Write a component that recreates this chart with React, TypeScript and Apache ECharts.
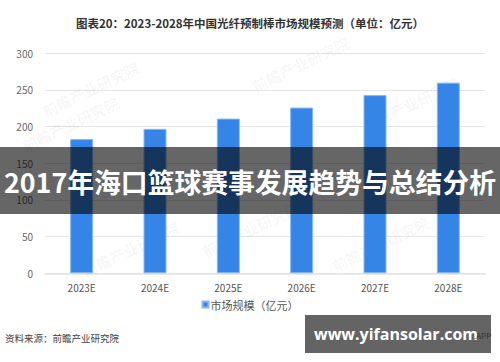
import React, { useEffect, useRef } from "react";
import * as echarts from "echarts";

const categories = ["2023E", "2024E", "2025E", "2026E", "2027E", "2028E"];
const marketSize = [183, 197, 211, 226, 243, 260];
const yTicks = [0, 50, 100, 150, 200, 250, 300];
const titleText = "图表20：2023-2028年中国光纤预制棒市场规模预测（单位：亿元）";
const seriesName = "市场规模（亿元）";
const sourceText = "资料来源：前瞻产业研究院";
const bannerText = "2017年海口篮球赛事发展趋势与总结分析";
const siteText = "www.yifansolar.com";

const CJK = '"Noto Sans CJK SC", "Noto Sans", sans-serif';

export default function App() {
  const ref = useRef<HTMLDivElement>(null);
  useEffect(() => {
    document.body.style.margin = "0";
    if (!ref.current) return;
    const chart = echarts.init(ref.current, undefined, { renderer: "svg" });
    const wm = (x: number, y: number) => ({
      type: "text",
      x,
      y,
      rotation: Math.PI / 7,
      silent: true,
      z: 1,
      style: {
        text: "前瞻产业研究院",
        fill: "rgba(0,0,0,0.045)",
        font: `bold 15px ${CJK}`,
      },
    });
    chart.setOption({
      animation: false,
      backgroundColor: "#ffffff",
      title: {
        text: titleText,
        left: "center",
        top: 12,
        textStyle: { fontSize: 11.5, fontWeight: "bold", color: "#333", fontFamily: CJK },
      },
      grid: { left: 45, right: 15, top: 53.3, bottom: 88.7, containLabel: false },
      legend: {
        data: [seriesName],
        bottom: 47,
        left: "center",
        itemWidth: 6,
        itemHeight: 6,
        itemGap: 2,
        icon: "rect",
        textStyle: { fontSize: 11, color: "#555", fontFamily: CJK, padding: [0, 0, 0, -3] },
      },
      xAxis: {
        type: "category",
        data: categories,
        axisTick: { show: false },
        axisLine: { lineStyle: { color: "#e3e3e3", width: 1.5 } },
        axisLabel: { color: "#555", fontSize: 10, margin: 9, fontFamily: CJK },
      },
      yAxis: {
        type: "value",
        min: yTicks[0],
        max: yTicks[yTicks.length - 1],
        interval: 50,
        axisLine: { show: false },
        axisTick: { show: false },
        splitLine: { lineStyle: { color: "#e6e6e6" } },
        axisLabel: { color: "#666", fontSize: 10, margin: 12, fontFamily: CJK },
      },
      series: [
        {
          name: seriesName,
          type: "bar",
          data: marketSize,
          barWidth: 23,
          itemStyle: { color: "#3585e6", borderColor: "#8ab7f1", borderWidth: 1 },
        },
      ],
      graphic: [
        wm(40, 105),
        wm(250, 80),
        wm(360, 120),
        wm(80, 265),
        wm(200, 245),
        wm(330, 260),
        wm(20, 140),
        {
          type: "text",
          left: 5,
          top: 333,
          style: { text: sourceText, fill: "#444", font: `9.5px ${CJK}` },
        },
        {
          type: "rect",
          shape: { x: 0, y: 147, width: 500, height: 67 },
          style: { fill: "rgba(0,0,0,0.6)" },
          z: 100,
        },
        {
          type: "text",
          x: 250,
          y: 181,
          z: 101,
          style: {
            text: bannerText,
            fill: "#ffffff",
            font: `bold 26.8px ${CJK}`,
            textAlign: "center",
            textVerticalAlign: "middle",
          },
        },
        {
          type: "rect",
          shape: { x: 305, y: 315, width: 186, height: 38 },
          style: { fill: "#646464" },
          z: 100,
        },
        {
          type: "text",
          x: 396,
          y: 334,
          z: 101,
          style: {
            text: siteText,
            fill: "#ffffff",
            font: `bold 16px "Open Sans", "DejaVu Sans", sans-serif`,
            textAlign: "center",
            textVerticalAlign: "middle",
          },
        },
        {
          type: "text",
          x: 474,
          y: 335,
          z: 102,
          style: {
            text: ".APP",
            fill: "#333",
            font: `8px ${CJK}`,
            textVerticalAlign: "middle",
          },
        },
      ],
    });
    return () => chart.dispose();
  }, []);
  return <div ref={ref} style={{ width: 500, height: 362 }} />;
}
